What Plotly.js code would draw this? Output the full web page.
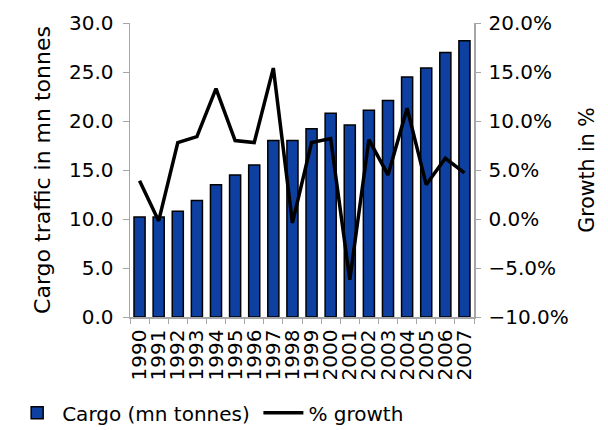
<!DOCTYPE html>
<html>
<head>
<meta charset="utf-8">
<script src="https://cdn.plot.ly/plotly-3.0.1.min.js"></script>
<style>html,body{margin:0;padding:0;background:#fff;}#chart{width:608px;height:430px;}</style>
</head>
<body>
<div id="chart"></div>
<script>
var years = ["1990","1991","1992","1993","1994","1995","1996","1997","1998","1999","2000","2001","2002","2003","2004","2005","2006","2007"];
var cargo = [10.2, 10.2, 10.8, 11.9, 13.5, 14.5, 15.5, 18.0, 18.0, 19.2, 20.8, 19.6, 21.1, 22.1, 24.5, 25.4, 27.0, 28.2];
var growth = [3.9, -0.2, 7.8, 8.4, 13.3, 8.0, 7.8, 15.4, -0.4, 7.8, 8.2, -6.2, 8.1, 4.5, 11.3, 3.5, 6.2, 4.7];

var fontFam = "DejaVu Sans, Verdana, sans-serif";
var axisGray = "#a6a6a6";

var traces = [
  {
    type: "bar", x: years, y: cargo, name: "Cargo (mn tonnes)",
    marker: {color: "#0d40a0", line: {color: "#000", width: 1.5}},
    yaxis: "y", legend: "legend"
  },
  {
    type: "scatter", mode: "lines", x: years, y: growth, name: "% growth",
    line: {color: "#000", width: 3.5},
    yaxis: "y2", legend: "legend2"
  }
];

var legendCommon = {
  orientation: "h", xref: "container", yref: "container",
  xanchor: "left", yanchor: "middle",
  font: {size: 20, family: fontFam}, itemwidth: 40
};

var layout = {
  width: 608, height: 430,
  margin: {l: 130, r: 134, t: 23, b: 113},
  paper_bgcolor: "#fff", plot_bgcolor: "#fff",
  font: {family: fontFam, color: "#000", size: 20},
  bargap: 0.42,
  showlegend: true,
  legend: Object.assign({}, legendCommon, {x: 0.02, y: 0.04}),
  legend2: Object.assign({}, legendCommon, {x: 0.425, y: 0.04}),
  xaxis: {
    type: "category", tickangle: -90, tickfont: {size: 20},
    tickmode: "array", tickvals: years, ticktext: years,
    showline: true, linecolor: axisGray, linewidth: 1.5,
    ticks: "outside", tickson: "boundaries", ticklen: 5, tickcolor: axisGray,
    ticklabelstandoff: 3,
    showgrid: false, zeroline: false
  },
  yaxis: {
    range: [0, 30], dtick: 5, tickformat: ".1f",
    showline: true, linecolor: axisGray, linewidth: 1.5,
    ticks: "outside", ticklen: 6, tickcolor: axisGray,
    ticklabelstandoff: 5,
    showgrid: false, zeroline: false,
    title: {text: "Cargo traffic in mn tonnes", font: {size: 22}, standoff: 12}
  },
  yaxis2: {
    range: [-10, 20], dtick: 5, overlaying: "y", side: "right",
    tickformat: ".1f", ticksuffix: "%",
    showline: true, linecolor: axisGray, linewidth: 1.5,
    ticks: "outside", ticklen: 5, tickcolor: axisGray,
    ticklabelstandoff: 4,
    showgrid: false, zeroline: false,
    title: {text: "Growth in %", font: {size: 20.5}, standoff: 12}
  }
};

Plotly.newPlot("chart", traces, layout, {displayModeBar: false, staticPlot: true});
</script>
</body>
</html>
